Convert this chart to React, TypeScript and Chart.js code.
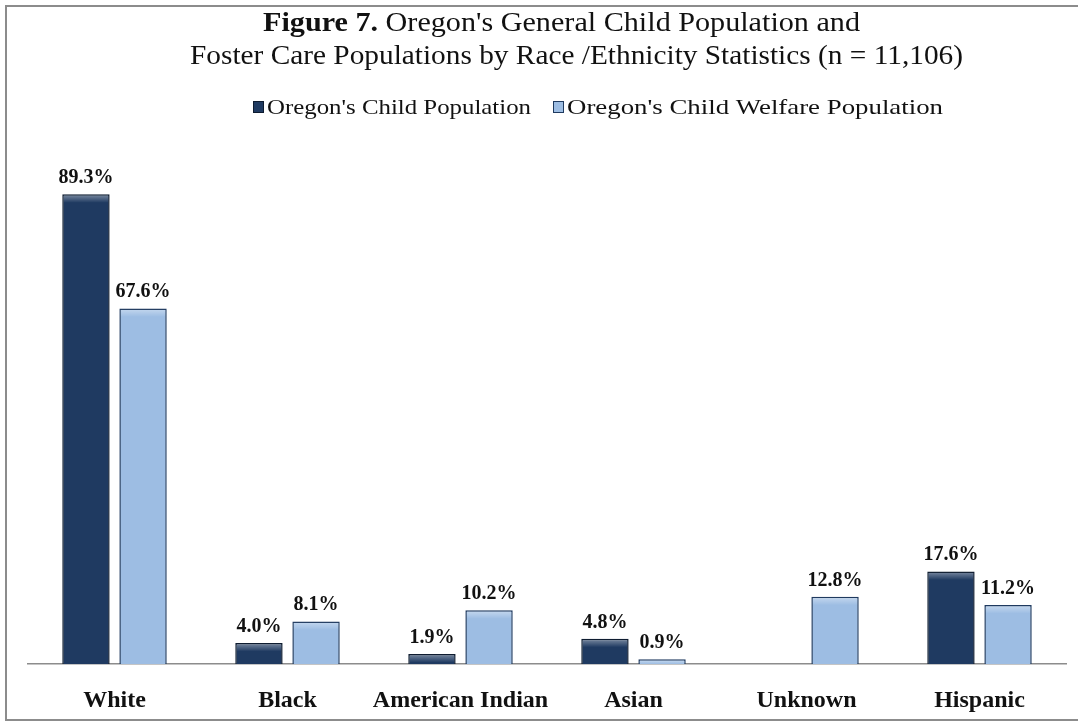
import React, { useEffect, useRef } from "react";
import { Chart, registerables } from "chart.js";

Chart.register(...registerables);

const categories = ["White", "Black", "American Indian", "Asian", "Unknown", "Hispanic"];
const childPopulation: (number | null)[] = [89.3, 4.0, 1.9, 4.8, null, 17.6];
const welfarePopulation: (number | null)[] = [67.6, 8.1, 10.2, 0.9, 12.8, 11.2];
const seriesNames = ["Oregon's Child Population", "Oregon's Child Welfare Population"];
const titleBold = "Figure 7.";
const titleLine1 = " Oregon's General Child Population and";
const titleLine2 = "Foster Care Populations by Race /Ethnicity Statistics (n = 11,106)";

const DARK = "#1F3A61";
const DARK_BORDER = "#0E1C30";
const LIGHT = "#9DBDE3";
const LIGHT_BORDER = "#1F3A5F";
const SERIF = "'Liberation Serif', 'Times New Roman', serif";

function drawFitted(
  ctx: CanvasRenderingContext2D,
  parts: { text: string; font: string }[],
  x: number,
  y: number,
  width: number
) {
  let total = 0;
  const widths = parts.map((p) => {
    ctx.font = p.font;
    const w = ctx.measureText(p.text).width;
    total += w;
    return w;
  });
  const sx = width / total;
  ctx.save();
  ctx.translate(x, y);
  ctx.scale(sx, 1);
  let cx = 0;
  parts.forEach((p, i) => {
    ctx.font = p.font;
    ctx.fillText(p.text, cx, 0);
    cx += widths[i];
  });
  ctx.restore();
}

const decorPlugin = {
  id: "decor",
  beforeDraw(chart: any) {
    const ctx: CanvasRenderingContext2D = chart.ctx;
    ctx.save();
    ctx.fillStyle = "#ffffff";
    ctx.fillRect(0, 0, chart.width, chart.height);
    ctx.strokeStyle = "#8c8c8c";
    ctx.lineWidth = 2;
    ctx.strokeRect(6, 6, 1090, 714);
    ctx.fillStyle = "#111111";
    ctx.textBaseline = "alphabetic";
    drawFitted(
      ctx,
      [
        { text: titleBold, font: `bold 27px ${SERIF}` },
        { text: titleLine1, font: `27px ${SERIF}` },
      ],
      263,
      31,
      597
    );
    drawFitted(ctx, [{ text: titleLine2, font: `27px ${SERIF}` }], 190, 64, 773);

    // legend
    const items = [
      { x: 253, w: 264, fill: DARK, border: DARK_BORDER, label: seriesNames[0] },
      { x: 553, w: 376, fill: LIGHT, border: LIGHT_BORDER, label: seriesNames[1] },
    ];
    items.forEach((it) => {
      ctx.fillStyle = it.fill;
      ctx.fillRect(it.x, 101, 10, 11);
      ctx.strokeStyle = it.border;
      ctx.lineWidth = 1;
      ctx.strokeRect(it.x + 0.5, 101.5, 10, 11);
      ctx.fillStyle = "#111111";
      drawFitted(ctx, [{ text: it.label, font: `22px ${SERIF}` }], it.x + 14, 114, it.w);
    });
    ctx.restore();
  },
  afterDatasetsDraw(chart: any) {
    const ctx: CanvasRenderingContext2D = chart.ctx;
    ctx.save();
    // bevel highlight on bars
    chart.data.datasets.forEach((ds: any, di: number) => {
      const meta = chart.getDatasetMeta(di);
      meta.data.forEach((el: any, i: number) => {
        const v = ds.data[i];
        if (v === null || v === undefined) return;
        const left = el.x - el.width / 2 + 1.5;
        const right = el.x + el.width / 2 - 1.5;
        const top = el.y + 1.5;
        const h = Math.min(7, el.base - top);
        if (h <= 0) return;
        const g = ctx.createLinearGradient(0, top, 0, top + h);
        g.addColorStop(0, "rgba(255,255,255,0.35)");
        g.addColorStop(1, "rgba(255,255,255,0)");
        ctx.fillStyle = g;
        ctx.fillRect(left, top, right - left, h);
      });
    });
    ctx.fillStyle = "#111111";
    ctx.font = `bold 20px ${SERIF}`;
    ctx.textAlign = "center";
    ctx.textBaseline = "alphabetic";
    chart.data.datasets.forEach((ds: any, di: number) => {
      const meta = chart.getDatasetMeta(di);
      meta.data.forEach((el: any, i: number) => {
        const v = ds.data[i];
        if (v === null || v === undefined) return;
        ctx.fillText(`${v.toFixed(1)}%`, el.x, el.y - 11);
      });
    });
    ctx.restore();
  },
};

export default function App() {
  const ref = useRef<HTMLCanvasElement | null>(null);
  useEffect(() => {
    if (!ref.current) return;
    const chart = new Chart(ref.current, {
      type: "bar",
      data: {
        labels: categories,
        datasets: [
          {
            label: seriesNames[0],
            data: childPopulation,
            backgroundColor: DARK,
            borderColor: DARK_BORDER,
            borderWidth: 1.5,
          },
          {
            label: seriesNames[1],
            data: welfarePopulation,
            backgroundColor: LIGHT,
            borderColor: LIGHT_BORDER,
            borderWidth: 1.5,
          },
        ],
      },
      options: {
        animation: false,
        responsive: false,
        maintainAspectRatio: false,
        categoryPercentage: 0.66,
        barPercentage: 0.83,
        layout: { padding: { left: 28, right: 12, top: 138, bottom: 0 } },
        plugins: {
          legend: { display: false },
          title: { display: false },
          tooltip: { enabled: false },
        },
        scales: {
          x: {
            grid: { display: false, drawTicks: false },
            border: { display: true, color: "#8c8c8c", width: 1.5 },
            afterFit: (scale: any) => {
              scale.height = 58;
            },
            ticks: {
              color: "#111111",
              padding: 22,
              maxRotation: 0,
              minRotation: 0,
              autoSkip: false,
              font: { family: SERIF, size: 24, weight: "bold" },
            },
          },
          y: {
            display: false,
            min: 0,
            max: 100,
          },
        },
      },
      plugins: [decorPlugin],
    } as any);
    return () => chart.destroy();
  }, []);
  return (
    <div style={{ position: "fixed", left: 0, top: 0, width: 1078, height: 722, background: "#fff" }}>
      <canvas ref={ref} width={1078} height={722} style={{ display: "block" }} />
    </div>
  );
}
